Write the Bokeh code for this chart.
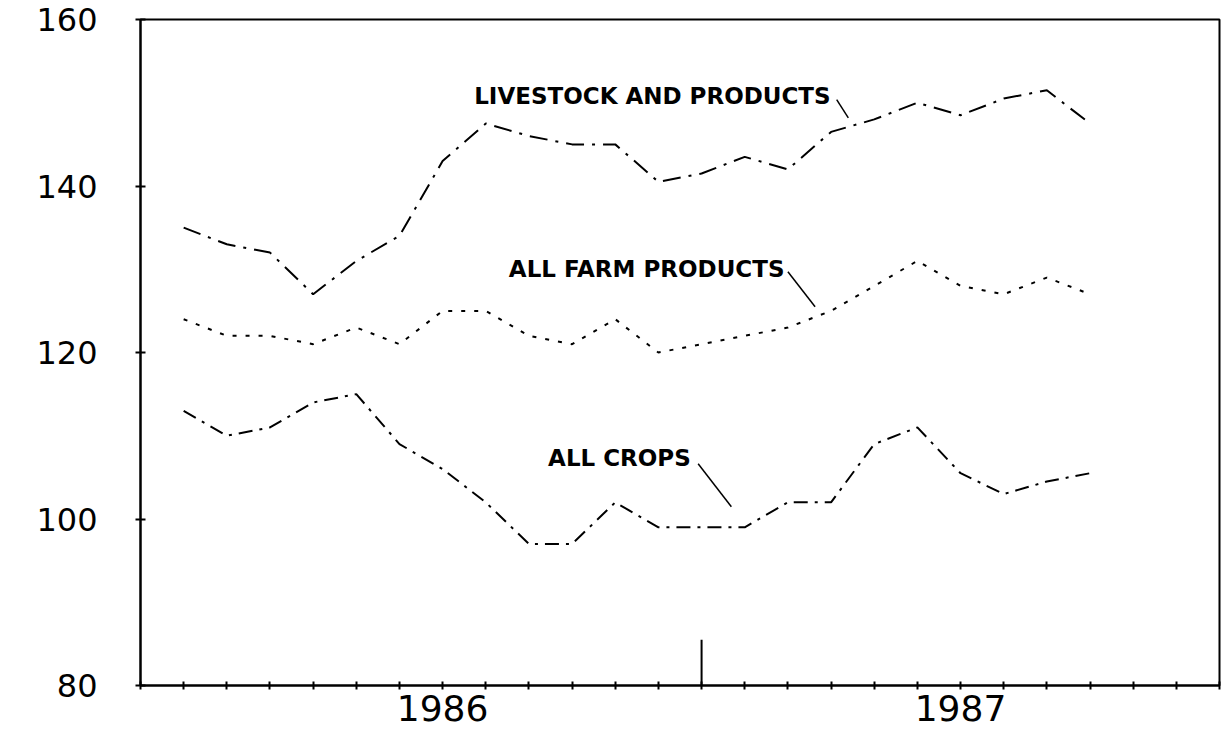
from bokeh.plotting import figure
from bokeh.models import FixedTicker, Range1d
from bokeh.core.properties import value
from bokeh.embed import file_html
from bokeh.resources import INLINE

# ---------------- data ----------------
months = ["Jan 1986", "Feb 1986", "Mar 1986", "Apr 1986", "May 1986", "Jun 1986",
          "Jul 1986", "Aug 1986", "Sep 1986", "Oct 1986", "Nov 1986", "Dec 1986",
          "Jan 1987", "Feb 1987", "Mar 1987", "Apr 1987", "May 1987", "Jun 1987",
          "Jul 1987", "Aug 1987", "Sep 1987", "Oct 1987"]
livestock = [135, 133, 132, 127, 131, 134, 143, 147.5, 146, 145, 145, 140.5,
             141.5, 143.5, 142, 146.5, 148, 150, 148.5, 150.5, 151.5, 147.5]
all_farm = [124, 122, 122, 121, 123, 121, 125, 125, 122, 121, 124, 120,
            121, 122, 123, 125, 128, 131, 128, 127, 129, 127]
all_crops = [113, 110, 111, 114, 115, 109, 106, 102, 97, 97, 102, 99,
             99, 99, 102, 102, 109, 111, 105.5, 103, 104.5, 105.5]
years = ["1986", "1987"]
y_ticks = [80, 100, 120, 140, 160]
series_labels = ["LIVESTOCK AND PRODUCTS", "ALL FARM PRODUCTS", "ALL CROPS"]

# month index: 0 = Dec 1985, 1 = Jan 1986 ...
x = list(range(1, len(months) + 1))
x_end = 1 + 12 * len(years)
year_starts = [1 + 12 * i for i in range(len(years))]
year_centers = [s + 6 for s in year_starts]

p = figure(width=1222, height=736, output_backend="svg", toolbar_location=None,
           x_range=Range1d(0, x_end), y_range=Range1d(y_ticks[0], y_ticks[-1]),
           min_border_left=140, min_border_right=3, min_border_top=19,
           min_border_bottom=51)
p.background_fill_color = "white"
p.border_fill_color = "white"
p.outline_line_color = "black"
p.outline_line_width = 2
p.xgrid.visible = False
p.ygrid.visible = False

# axes
p.xaxis.ticker = FixedTicker(ticks=list(range(0, x_end + 1)))
overrides = {i: "" for i in range(0, x_end + 1)}
for c, yl in zip(year_centers, years):
    overrides[c] = yl
p.xaxis.major_label_overrides = overrides
p.xaxis.major_tick_in = 4
p.xaxis.major_tick_out = 4
p.xaxis.minor_tick_line_color = None
p.xaxis.axis_line_width = 2
p.xaxis.major_tick_line_width = 2
p.xaxis.major_label_text_font = "DejaVu Sans"
p.xaxis.major_label_text_font_size = "36px"
p.xaxis.major_label_text_color = "black"
p.xaxis.major_label_standoff = 5

p.yaxis.ticker = FixedTicker(ticks=y_ticks)
p.yaxis.major_tick_in = 5
p.yaxis.major_tick_out = 5
p.yaxis.minor_tick_line_color = None
p.yaxis.axis_line_width = 2
p.yaxis.major_tick_line_width = 2
p.yaxis.major_label_text_font = "DejaVu Sans"
p.yaxis.major_label_text_font_size = "32px"
p.yaxis.major_label_text_color = "black"
p.yaxis.major_label_standoff = 38

# year divider tick
for s in year_starts[1:]:
    p.segment(x0=[s], y0=[y_ticks[0]], x1=[s], y1=[y_ticks[0] + 5.5],
              line_color="black", line_width=2)

# series
p.line(x, livestock, line_color="black", line_width=2, line_dash="18 8 3 8")
p.line(x, all_farm, line_color="black", line_width=2, line_dash="4 9")
p.line(x, all_crops, line_color="black", line_width=2, line_dash="14 7 3 7")

# annotations: text (right aligned) + leader lines
ann_text_pos = [(15.99, 150.76), (14.92, 129.97), (12.75, 107.33)]
ann_leaders = [((16.13, 150.37), (16.40, 148.18)),
               ((15.00, 129.70), (15.63, 125.50)),
               ((12.92, 106.63), (13.69, 101.47))]
for lab, (tx, ty), ((lx0, ly0), (lx1, ly1)) in zip(series_labels, ann_text_pos, ann_leaders):
    p.text(x=[tx], y=[ty], text=[lab], text_align="right", text_baseline="middle",
           text_font=value("DejaVu Sans"), text_font_style="bold",
           text_font_size="23px", text_color="black")
    p.segment(x0=[lx0], y0=[ly0], x1=[lx1], y1=[ly1], line_color="black", line_width=1.5)

open("out.html", "w").write(file_html(p, INLINE))
